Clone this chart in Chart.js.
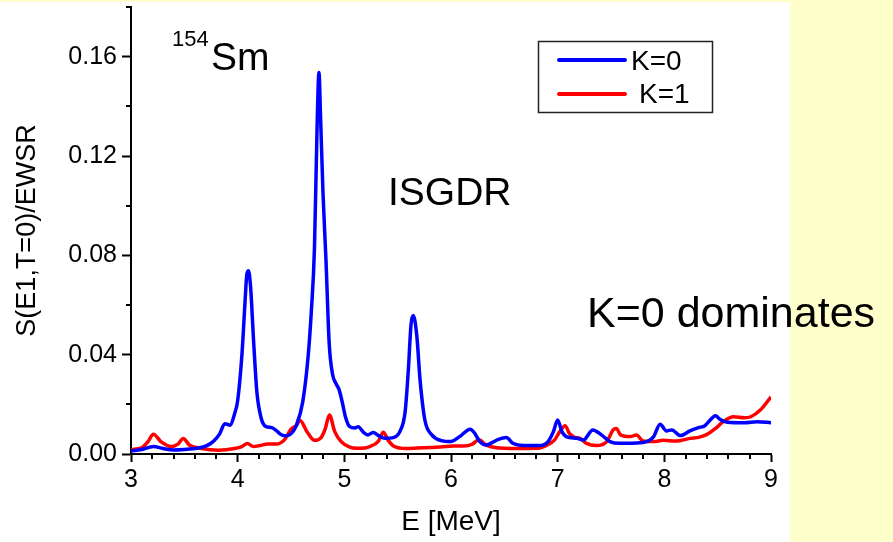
<!DOCTYPE html>
<html>
<head>
<meta charset="utf-8">
<script src="https://cdn.jsdelivr.net/npm/chart.js@4"></script>
<style>
  html, body { margin: 0; padding: 0; background: #ffffcc; }
  canvas { display: block; }
</style>
</head>
<body>
<canvas id="strengthChart" width="893" height="542"></canvas>
<script>
// E1 strength, K=0 branch (E in MeV)
const k0Energy = [3.00, 3.10, 3.21, 3.30, 3.40, 3.50, 3.62, 3.70, 3.77, 3.83, 3.88, 3.93, 3.97, 4.00, 4.04, 4.07, 4.085, 4.10, 4.12, 4.15, 4.18, 4.22, 4.26, 4.32, 4.36, 4.40, 4.44, 4.49, 4.55, 4.61, 4.66, 4.69, 4.72, 4.746, 4.762, 4.778, 4.80, 4.828, 4.858, 4.89, 4.92, 4.95, 4.98, 5.01, 5.05, 5.10, 5.13, 5.18, 5.22, 5.27, 5.32, 5.38, 5.46, 5.52, 5.57, 5.60, 5.625, 5.646, 5.68, 5.71, 5.755, 5.82, 5.91, 6.00, 6.08, 6.18, 6.22, 6.27, 6.33, 6.43, 6.52, 6.58, 6.68, 6.83, 6.91, 6.96, 7.00, 7.04, 7.08, 7.18, 7.24, 7.33, 7.41, 7.49, 7.58, 7.65, 7.80, 7.90, 7.96, 8.02, 8.07, 8.15, 8.24, 8.32, 8.38, 8.43, 8.48, 8.52, 8.59, 8.75, 8.87, 9.00];
const k0Values = [0.0012, 0.0018, 0.0030, 0.0022, 0.0016, 0.0018, 0.0023, 0.0032, 0.0050, 0.0080, 0.0122, 0.0116, 0.0160, 0.0215, 0.0400, 0.0620, 0.0720, 0.0738, 0.0680, 0.0450, 0.0250, 0.0145, 0.0112, 0.0106, 0.0095, 0.0080, 0.0073, 0.0078, 0.0115, 0.0210, 0.0390, 0.0570, 0.0830, 0.1345, 0.1536, 0.1345, 0.1050, 0.0780, 0.0446, 0.0320, 0.0285, 0.0260, 0.0210, 0.0150, 0.0110, 0.0105, 0.0110, 0.0087, 0.0077, 0.0087, 0.0074, 0.0063, 0.0066, 0.0090, 0.0170, 0.0338, 0.0520, 0.0558, 0.0473, 0.0298, 0.0137, 0.0077, 0.0054, 0.0050, 0.0070, 0.0100, 0.0085, 0.0050, 0.0036, 0.0056, 0.0066, 0.0043, 0.0034, 0.0034, 0.0050, 0.0090, 0.0137, 0.0090, 0.0070, 0.0063, 0.0056, 0.0097, 0.0077, 0.0050, 0.0043, 0.0043, 0.0046, 0.0070, 0.0120, 0.0093, 0.0097, 0.0074, 0.0093, 0.0106, 0.0114, 0.0137, 0.0154, 0.0140, 0.0128, 0.0126, 0.0130, 0.0126];

// E1 strength, K=1 branch
const k1Energy = [3.00, 3.10, 3.16, 3.21, 3.28, 3.38, 3.44, 3.49, 3.55, 3.66, 3.82, 3.97, 4.04, 4.09, 4.15, 4.21, 4.28, 4.36, 4.44, 4.50, 4.55, 4.585, 4.65, 4.72, 4.78, 4.82, 4.86, 4.91, 4.97, 5.05, 5.12, 5.24, 5.32, 5.365, 5.41, 5.47, 5.58, 5.74, 5.90, 6.02, 6.12, 6.20, 6.26, 6.33, 6.43, 6.61, 6.80, 6.90, 6.97, 7.02, 7.07, 7.11, 7.16, 7.21, 7.27, 7.36, 7.46, 7.52, 7.55, 7.59, 7.68, 7.74, 7.80, 7.90, 7.99, 8.11, 8.24, 8.33, 8.40, 8.48, 8.55, 8.65, 8.75, 8.81, 8.90, 9.00];
const k1Values = [0.0018, 0.0025, 0.0050, 0.0080, 0.0050, 0.0030, 0.0040, 0.0062, 0.0035, 0.0022, 0.0015, 0.0022, 0.0030, 0.0042, 0.0030, 0.0034, 0.0040, 0.0040, 0.0058, 0.0100, 0.0115, 0.0135, 0.0090, 0.0055, 0.0065, 0.0100, 0.0157, 0.0090, 0.0050, 0.0028, 0.0023, 0.0030, 0.0052, 0.0088, 0.0056, 0.0030, 0.0022, 0.0025, 0.0028, 0.0032, 0.0032, 0.0040, 0.0057, 0.0036, 0.0025, 0.0022, 0.0023, 0.0036, 0.0056, 0.0090, 0.0114, 0.0083, 0.0067, 0.0063, 0.0043, 0.0034, 0.0050, 0.0097, 0.0103, 0.0077, 0.0070, 0.0077, 0.0052, 0.0050, 0.0055, 0.0052, 0.0063, 0.0068, 0.0079, 0.0103, 0.0130, 0.0150, 0.0146, 0.0150, 0.0177, 0.0230];

const seriesLabels = ['K=0', 'K=1'];
const seriesColors = ['#0000ff', '#ff0000'];

const FONT = "'Liberation Sans', Arial, sans-serif";

const toPoints = (xs, ys) => xs.map((x, i) => ({ x: x, y: ys[i] }));

// white slide panel with the pale yellow margin
const slideBackground = {
  id: 'slideBackground',
  beforeDraw(chart) {
    const { ctx, width, height } = chart;
    ctx.save();
    ctx.fillStyle = '#ffffcc';
    ctx.fillRect(0, 0, width, height);
    ctx.fillStyle = '#ffffff';
    ctx.fillRect(0, 2, 790, height - 2);
    ctx.restore();
  }
};

// short ticks between the labelled ones
const minorTicks = {
  id: 'minorTicks',
  afterDraw(chart) {
    const { ctx, chartArea, scales } = chart;
    ctx.save();
    ctx.strokeStyle = '#000';
    ctx.lineWidth = 2;
    ctx.beginPath();
    for (let i = 1; i < 30; i++) {
      if (i % 5 === 0) continue;
      const px = Math.round(scales.x.getPixelForValue(3 + i * 0.2));
      ctx.moveTo(px, chartArea.bottom);
      ctx.lineTo(px, chartArea.bottom + 5);
    }
    for (let i = 0; i < 5; i++) {
      const py = Math.round(scales.y.getPixelForValue(0.02 + i * 0.04));
      ctx.moveTo(chartArea.left, py);
      ctx.lineTo(chartArea.left - 5, py);
    }
    ctx.stroke();
    ctx.restore();
  }
};

// labels and the boxed legend
const annotations = {
  id: 'annotations',
  afterDraw(chart) {
    const { ctx } = chart;
    ctx.save();
    ctx.fillStyle = '#000';
    ctx.textBaseline = 'alphabetic';
    ctx.textAlign = 'left';

    ctx.font = '22px ' + FONT;
    ctx.fillText('154', 172, 46);
    ctx.font = '39px ' + FONT;
    ctx.fillText('Sm', 211, 70);

    ctx.font = '39px ' + FONT;
    ctx.fillText('ISGDR', 388, 205);

    ctx.font = '43px ' + FONT;
    ctx.fillText('K=0 dominates', 587, 327);

    // legend
    ctx.strokeStyle = '#222';
    ctx.lineWidth = 1.5;
    ctx.strokeRect(538.5, 41.5, 174, 71);
    const rows = [{ y: 60, tx: 631, ty: 70 }, { y: 94, tx: 639, ty: 103 }];
    chart.data.datasets.forEach((ds, i) => {
      ctx.strokeStyle = ds.borderColor;
      ctx.lineWidth = 4;
      ctx.lineCap = 'round';
      ctx.beginPath();
      ctx.moveTo(559, rows[i].y);
      ctx.lineTo(625, rows[i].y);
      ctx.stroke();
      ctx.font = '28px ' + FONT;
      ctx.fillText(ds.label, rows[i].tx, rows[i].ty);
    });
    ctx.restore();
  }
};

const strengthChart = document.getElementById('strengthChart');

new Chart(strengthChart, {
  type: 'line',
  data: {
    datasets: [
      {
        label: seriesLabels[0],
        data: toPoints(k0Energy, k0Values),
        borderColor: seriesColors[0],
        borderWidth: 3.5,
        pointRadius: 0,
        fill: false,
        cubicInterpolationMode: 'monotone',
      },
      {
        label: seriesLabels[1],
        data: toPoints(k1Energy, k1Values),
        borderColor: seriesColors[1],
        borderWidth: 3.5,
        pointRadius: 0,
        fill: false,
        cubicInterpolationMode: 'monotone',
      },
    ],
  },
  options: {
    responsive: false,
    animation: false,
    layout: { padding: { top: 7, right: 122, left: 0, bottom: 0 } },
    plugins: {
      legend: { display: false },
      tooltip: { enabled: false },
    },
    scales: {
      x: {
        type: 'linear',
        min: 3,
        max: 9,
        border: { color: '#000', width: 2 },
        grid: { drawOnChartArea: false, tickLength: 8, tickWidth: 2, tickColor: '#000' },
        ticks: { stepSize: 1, color: '#000', padding: 3, font: { family: FONT, size: 25 } },
        title: {
          display: true,
          text: 'E [MeV]',
          color: '#000',
          padding: { top: 0, bottom: 3 },
          font: { family: FONT, size: 28 },
        },
        afterFit(scale) {
          scale.height = 88;
          scale.paddingLeft = 0;
          scale.paddingRight = 0;
        },
      },
      y: {
        min: 0,
        max: 0.18,
        border: { color: '#000', width: 2 },
        grid: { drawOnChartArea: false, tickLength: 9, tickWidth: 2, tickColor: '#000' },
        ticks: {
          stepSize: 0.04,
          includeBounds: false,
          color: '#000',
          padding: 5,
          font: { family: FONT, size: 25 },
          callback: (v) => v.toFixed(2),
        },
        title: {
          display: true,
          text: 'S(E1,T=0)/EWSR',
          color: '#000',
          padding: { top: 11, bottom: 0 },
          font: { family: FONT, size: 27 },
        },
        afterFit(scale) {
          scale.width = 131;
          scale.paddingTop = 0;
          scale.paddingBottom = 0;
        },
      },
    },
  },
  plugins: [slideBackground, minorTicks, annotations],
});
</script>
</body>
</html>
